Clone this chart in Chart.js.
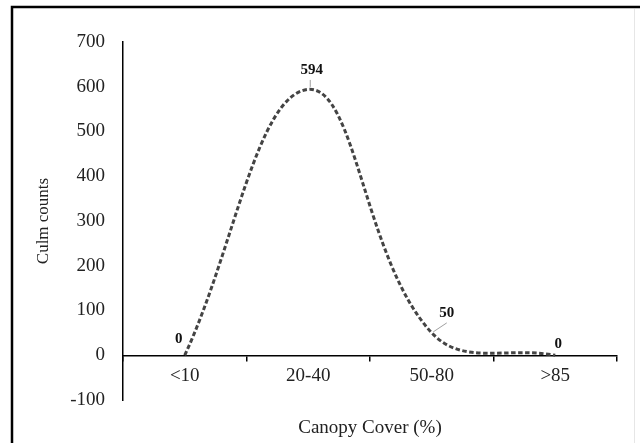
<!DOCTYPE html>
<html>
<head>
<meta charset="utf-8">
<script src="https://cdn.jsdelivr.net/npm/chart.js@4.4.1/dist/chart.umd.min.js"></script>
<style>
  html, body { margin: 0; padding: 0; background: #fff; }
  canvas { display: block; }
</style>
</head>
<body>
<canvas id="chart" width="640" height="443"></canvas>
<script>
// datos
const categories = ['<10', '20-40', '50-80', '>85'];
const culmCounts = [0, 594, 50, 0];
const yTicks = { min: -100, max: 700, step: 100 };

// posición de cada etiqueta respecto a su punto (px)
const labelOffsets = [[-6, -16], [3.5, -19.5], [15, -19.5], [3, -11]];
// líneas guía (desde, hasta) respecto al punto
const leaderLines = [null, [[2, -2.5], [2, -9.5]], [[1.5, -1], [15, -10]], null];

const serif = "'Liberation Serif', 'Times New Roman', serif";

// marco del gráfico
const framePlugin = {
    id: 'frame',
    beforeDraw(chart) {
        const ctx = chart.ctx;
        ctx.save();
        ctx.fillStyle = '#fff';
        ctx.fillRect(0, 0, chart.width, chart.height);
        ctx.strokeStyle = '#000';
        ctx.lineWidth = 2.5;
        ctx.beginPath();
        ctx.moveTo(12, chart.height);
        ctx.lineTo(12, 7);
        ctx.lineTo(chart.width, 7);
        ctx.stroke();
        ctx.strokeStyle = '#e6e6e6';
        ctx.lineWidth = 1;
        ctx.beginPath();
        ctx.moveTo(634.5, 9);
        ctx.lineTo(634.5, chart.height);
        ctx.stroke();
        ctx.restore();
    },
};

// etiquetas de valores
const valueLabels = {
    id: 'valueLabels',
    afterDatasetsDraw(chart) {
        const ctx = chart.ctx;
        const meta = chart.getDatasetMeta(0);
        ctx.save();
        meta.data.forEach((pt, i) => {
            const lead = leaderLines[i];
            if (lead) {
                ctx.strokeStyle = '#a0a0a0';
                ctx.lineWidth = 1;
                ctx.beginPath();
                ctx.moveTo(pt.x + lead[0][0], pt.y + lead[0][1]);
                ctx.lineTo(pt.x + lead[1][0], pt.y + lead[1][1]);
                ctx.stroke();
            }
            ctx.fillStyle = '#111';
            ctx.font = `bold 15px ${serif}`;
            ctx.textAlign = 'center';
            ctx.textBaseline = 'middle';
            ctx.fillText(String(culmCounts[i]), pt.x + labelOffsets[i][0], pt.y + labelOffsets[i][1]);
        });
        ctx.restore();
    },
};

new Chart(document.getElementById('chart'), {
    type: 'line',
    data: {
        labels: categories,
        datasets: [
            {
                data: culmCounts,
                borderColor: '#444',
                borderWidth: 3,
                borderDash: [4.5, 2.5],
                tension: 0.4,
                pointRadius: 0,
                fill: false,
            },
        ],
    },
    options: {
        responsive: false,
        animation: false,
        layout: {
            padding: { left: 0, top: 42, right: 23, bottom: 43 },
        },
        plugins: {
            legend: { display: false },
            tooltip: { enabled: false },
        },
        scales: {
            x: {
                position: { y: 0 },
                offset: true,
                grid: {
                    offset: true,
                    drawOnChartArea: false,
                    drawTicks: true,
                    tickLength: 5,
                    color: '#000',
                    lineWidth: 1.5,
                },
                border: { display: true, color: '#000', width: 1.5 },
                ticks: {
                    color: '#222',
                    font: { family: serif, size: 19 },
                    padding: 4,
                    maxRotation: 0,
                },
                title: {
                    display: true,
                    text: 'Canopy Cover (%)',
                    color: '#222',
                    font: { family: serif, size: 19 },
                    padding: { top: 26, bottom: 0 },
                },
            },
            y: {
                min: yTicks.min,
                max: yTicks.max,
                afterFit(scale) {
                    scale.width = 123;
                },
                grid: { drawOnChartArea: false, drawTicks: false },
                border: { display: true, color: '#000', width: 1.5 },
                ticks: {
                    stepSize: yTicks.step,
                    color: '#222',
                    font: { family: serif, size: 19 },
                    padding: 18,
                },
                title: {
                    display: true,
                    text: 'Culm counts',
                    color: '#222',
                    font: { family: serif, size: 17 },
                    padding: { top: 33, bottom: 0 },
                },
            },
        },
    },
    plugins: [framePlugin, valueLabels],
});
</script>
</body>
</html>
